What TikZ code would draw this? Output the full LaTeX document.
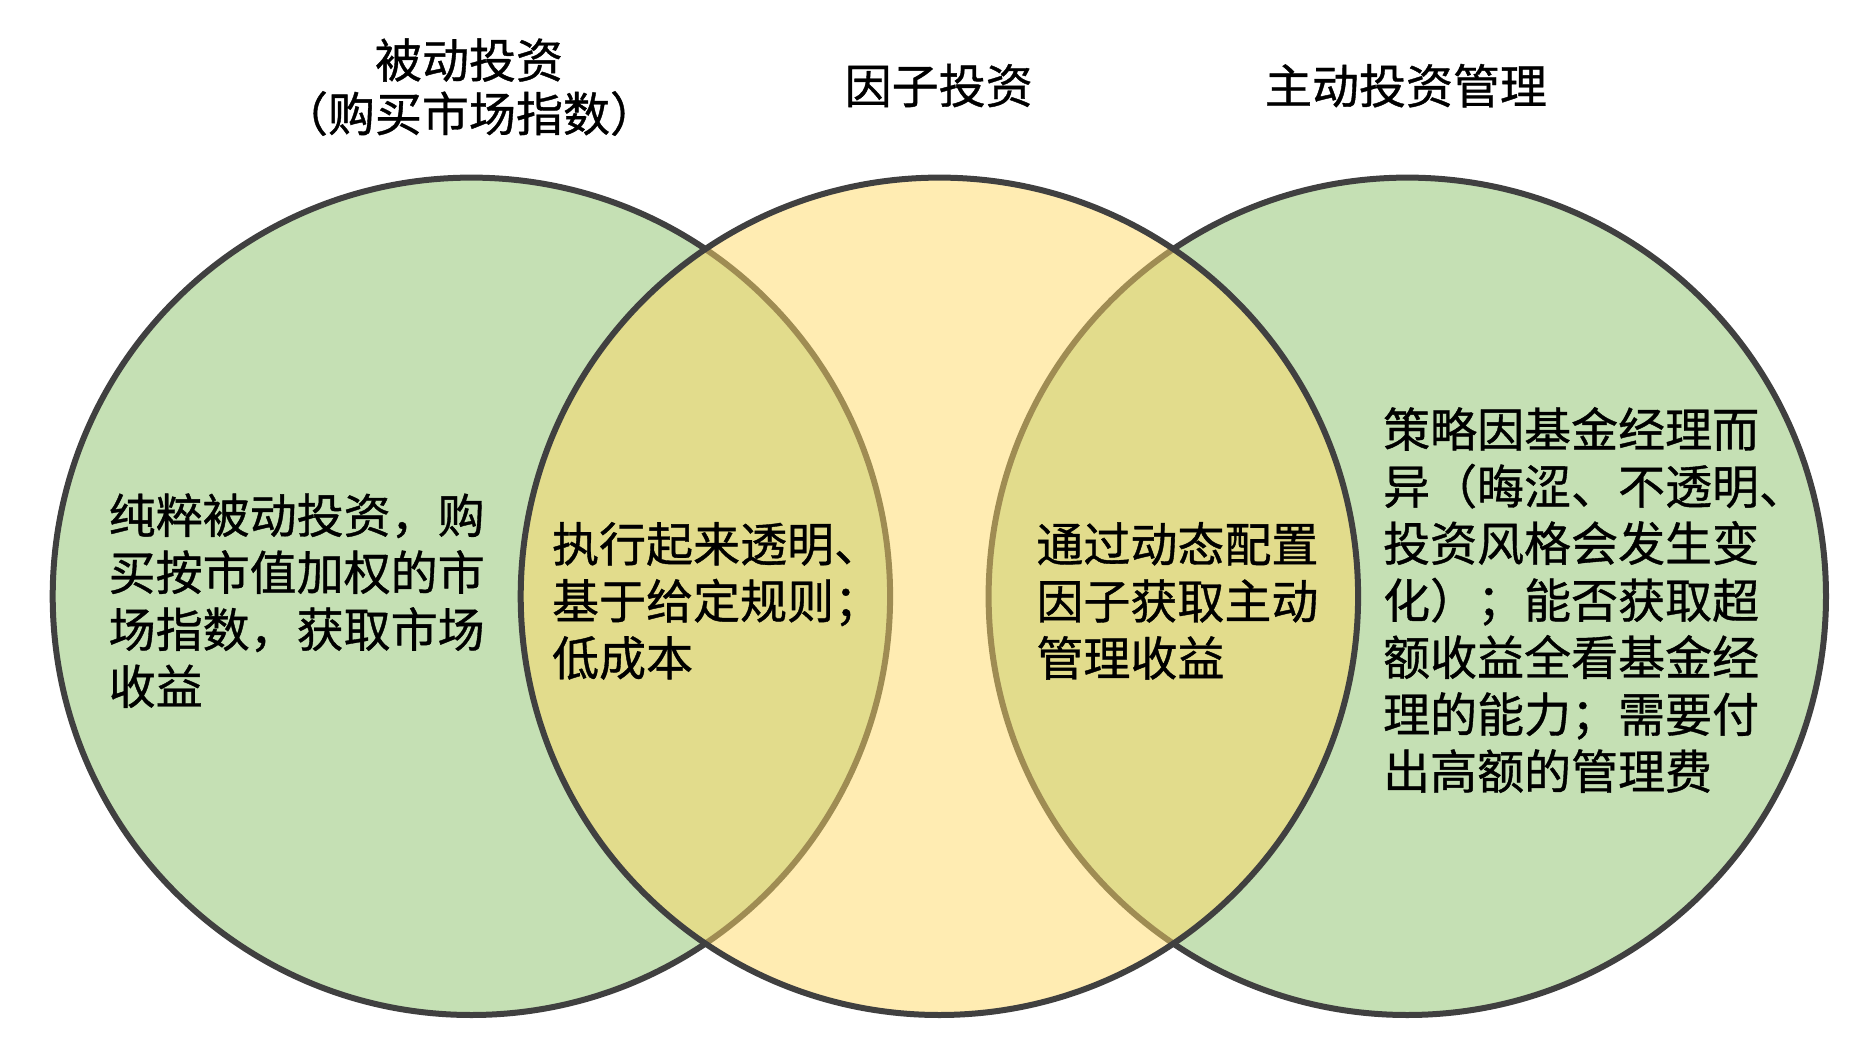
\documentclass[tikz,border=0pt]{standalone}
\usepackage{fontspec}
\newfontfamily\cjk[FakeBold=0.8]{Noto Sans CJK SC}
\definecolor{vgreen}{HTML}{C5E0B4}
\definecolor{vyellow}{HTML}{FFD966}
\definecolor{vline}{HTML}{404040}
\begin{document}
\begin{tikzpicture}[x=0.5pt,y=-0.5pt,
  setcircle/.style={line width=3pt,draw=vline},
  bodytext/.style={anchor=north west,inner sep=0pt,align=left,
    font=\cjk\fontsize{23.5}{28.5}\selectfont,text=black},
  titletext/.style={anchor=north,inner sep=0pt,align=center,
    font=\cjk\fontsize{23.5}{26.75}\selectfont,text=black}]
\useasboundingbox (0,0) rectangle (1875,1049);
% circles
\coordinate (cL) at (471.4,596.3);
\coordinate (cM) at (939.4,596.3);
\coordinate (cR) at (1407.3,596.3);
\fill[vgreen] (cL) circle[radius=418.7];
\draw[setcircle] (cL) circle[radius=418.7];
\fill[vgreen] (cR) circle[radius=418.7];
\draw[setcircle] (cR) circle[radius=418.7];
\fill[vyellow,fill opacity=0.5] (cM) circle[radius=418.7];
\draw[setcircle] (cM) circle[radius=418.7];
% titles
\node[titletext] (tL) at (469,38) {被动投资\\（购买市场指数）};
\node[titletext] (tM) at (938.7,63.5) {因子投资};
\node[titletext] (tR) at (1406,63.5) {主动投资管理};
% body texts
\node[bodytext] (bL) at (108.3,493) {纯粹被动投资，购\\买按市值加权的市\\场指数，获取市场\\收益};
\node[bodytext] (bLM) at (551.7,521.7) {执行起来透明、\\基于给定规则；\\低成本};
\node[bodytext] (bMR) at (1036,521.7) {通过动态配置\\因子获取主动\\管理收益};
\node[bodytext] (bR) at (1382.7,406.7) {策略因基金经理而\\异（晦涩、不透明、\\投资风格会发生变\\化）；能否获取超\\额收益全看基金经\\理的能力；需要付\\出高额的管理费};
\end{tikzpicture}
\end{document}
